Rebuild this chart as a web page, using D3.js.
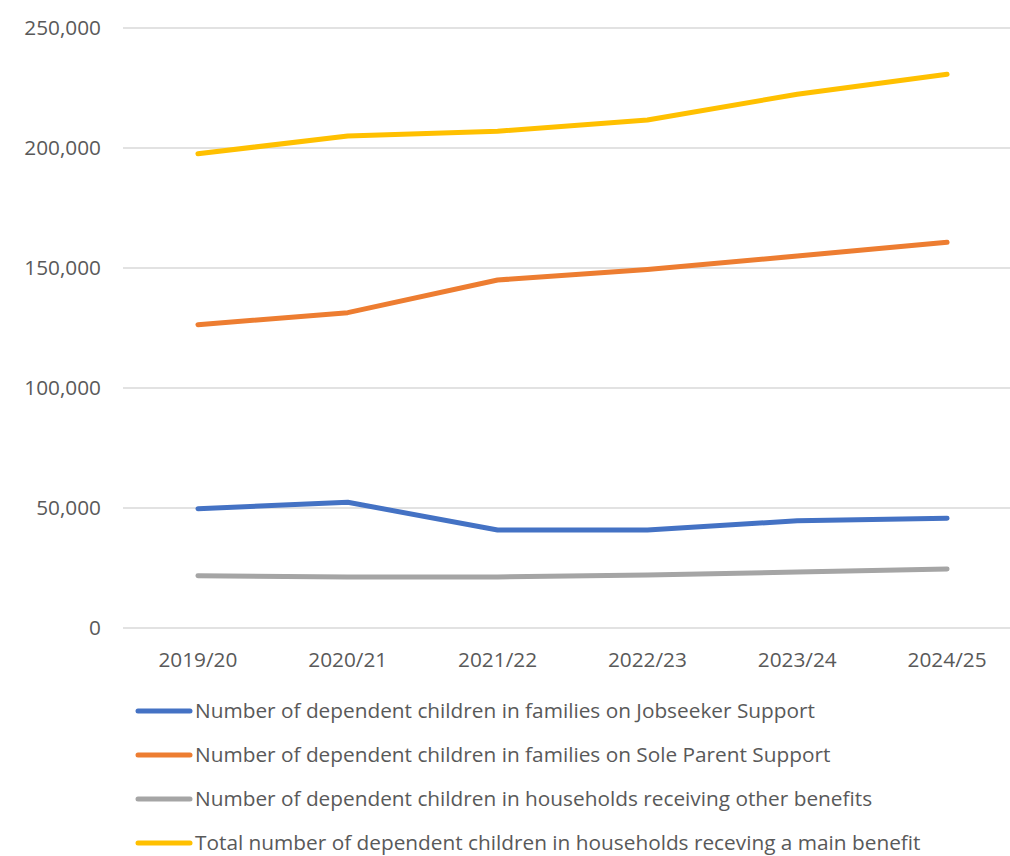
<!DOCTYPE html>
<html><head><meta charset="utf-8">
<script src="https://cdn.jsdelivr.net/npm/d3@7"></script>
<style>body{margin:0;background:#fff}svg{display:block}</style>
</head><body>
<svg id="c" width="1010" height="856"></svg>
<script>
const categories = ["2019/20","2020/21","2021/22","2022/23","2023/24","2024/25"];
const jobseeker = [49700, 52400, 40800, 40800, 44700, 45700];
const soleParent = [126400, 131400, 145000, 149400, 155000, 160700];
const otherBenefits = [21800, 21300, 21300, 22100, 23300, 24600];
const totalMain = [197600, 205000, 207000, 211700, 222400, 230700];
const seriesNames = [
  "Number of dependent children in families on Jobseeker Support",
  "Number of dependent children in families on Sole Parent Support",
  "Number of dependent children in households receiving other benefits",
  "Total number of dependent children in households receving a main benefit"
];
const yTicks = [0, 50000, 100000, 150000, 200000, 250000];

const series = [
  {name: seriesNames[0], values: jobseeker, color: "#4472C4"},
  {name: seriesNames[1], values: soleParent, color: "#ED7D31"},
  {name: seriesNames[2], values: otherBenefits, color: "#A5A5A5"},
  {name: seriesNames[3], values: totalMain, color: "#FFC000"}
];

const svg = d3.select("#c");
const font = "'Open Sans', 'Noto Sans', sans-serif";
const mLeft = 123, mRight = 1022, mTop = 28, mBottom = 628;
const x = d3.scalePoint().domain(categories).range([mLeft, mRight]).padding(0.5);
const y = d3.scaleLinear().domain([0, 250000]).range([mBottom, mTop]);

// gridlines
svg.append("g").selectAll("line").data(yTicks).join("line")
  .attr("x1", mLeft).attr("x2", 1010)
  .attr("y1", d => y(d)).attr("y2", d => y(d))
  .attr("stroke", "#D9D9D9").attr("stroke-width", 1.5);

// y axis labels
const fmt = d3.format(",");
svg.append("g").selectAll("text").data(yTicks).join("text")
  .attr("x", 101).attr("y", d => y(d)).attr("dy", "0.35em")
  .attr("text-anchor", "end").attr("fill", "#595959")
  .style("font-family", font).style("font-size", "20.8px")
  .text(d => fmt(d));

// x axis labels
svg.append("g").selectAll("text").data(categories).join("text")
  .attr("x", d => x(d)).attr("y", 667)
  .attr("text-anchor", "middle").attr("fill", "#595959")
  .style("font-family", font).style("font-size", "20.8px")
  .text(d => d);

const line = d3.line().x((d, i) => x(categories[i])).y(d => y(d));
svg.append("g").selectAll("path").data(series).join("path")
  .attr("d", d => line(d.values))
  .attr("fill", "none").attr("stroke", d => d.color)
  .attr("stroke-width", 5).attr("stroke-linecap", "round").attr("stroke-linejoin", "round");

// legend
const lg = svg.append("g").selectAll("g").data(series).join("g")
  .attr("transform", (d, i) => `translate(0, ${711 + i * 44})`);
lg.append("line").attr("x1", 138).attr("x2", 190).attr("y1", 0).attr("y2", 0)
  .attr("stroke", d => d.color).attr("stroke-width", 5).attr("stroke-linecap", "round");
lg.append("text").attr("x", 195).attr("y", 0).attr("dy", "0.35em")
  .attr("fill", "#595959").style("font-family", font).style("font-size", "20.8px")
  .text(d => d.name);
</script>
</body></html>
